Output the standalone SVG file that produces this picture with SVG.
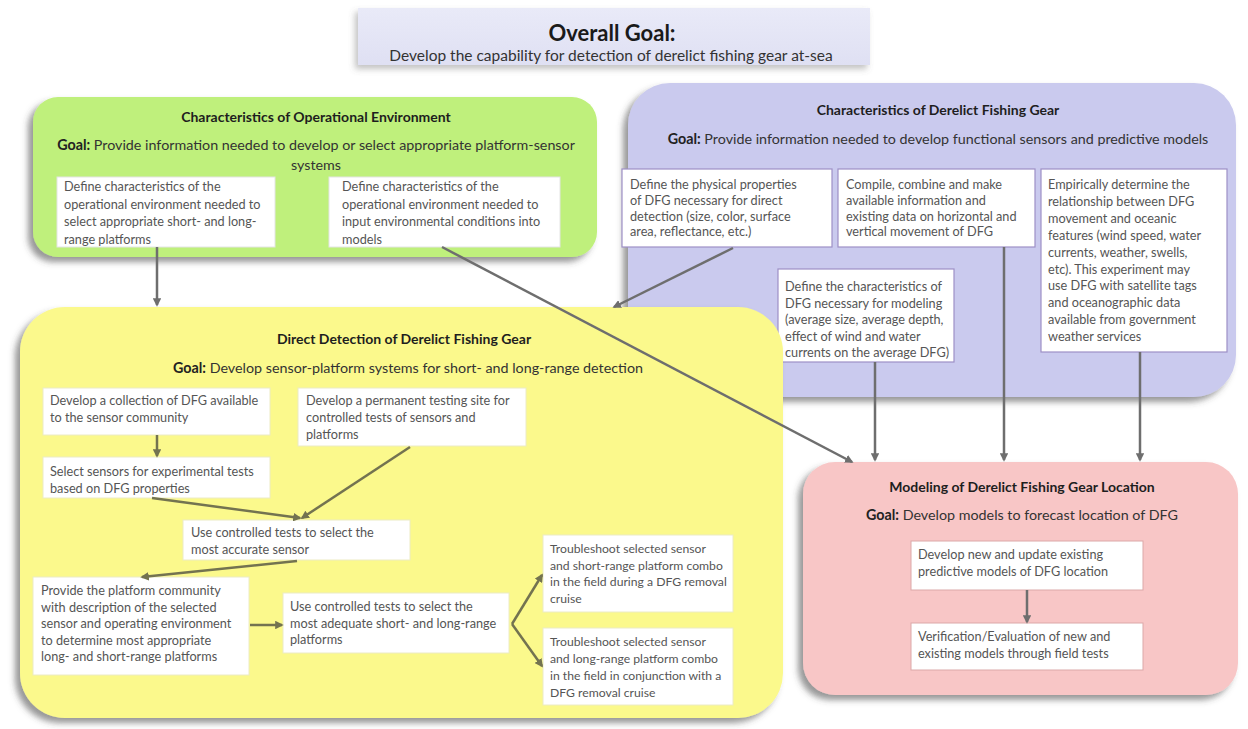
<svg xmlns="http://www.w3.org/2000/svg" width="1248" height="729" viewBox="0 0 1248 729">
<style>
text{font-family:Lato,"Liberation Sans",sans-serif}
.t{font-size:14px;font-weight:bold;fill:#1e1e1e;text-anchor:middle}
.g{font-size:14.3px;fill:#333;text-anchor:middle}
.g tspan.b{font-weight:bold;fill:#222}
.i{font-size:12.7px;fill:#555}
.s{font-size:12.2px}
.ib{fill:#fff}
.con{fill:none;stroke:#6e6e6e;stroke-width:2.5}
.cy{fill:none;stroke:#737350;stroke-width:2.5}
</style>
<defs>
<filter id="sh" x="-10%" y="-10%" width="120%" height="125%">
<feDropShadow dx="-5" dy="5" stdDeviation="3" flood-color="#444" flood-opacity="0.55"/>
</filter>
<filter id="sh2" x="-5%" y="-20%" width="110%" height="150%">
<feDropShadow dx="-3" dy="4" stdDeviation="3" flood-color="#666" flood-opacity="0.4"/>
</filter>
<linearGradient id="tg" x1="0" y1="0" x2="0" y2="1">
<stop offset="0" stop-color="#e9eaf8"/>
<stop offset="1" stop-color="#dfe0f3"/>
</linearGradient>
<marker id="a" viewBox="0 0 10 10" refX="8" refY="5" markerWidth="3.4" markerHeight="3.4" orient="auto" markerUnits="strokeWidth">
<path d="M0,0 L10,5 L0,10 z" fill="#6e6e6e"/>
</marker>
<marker id="ay" viewBox="0 0 10 10" refX="8" refY="5" markerWidth="3.4" markerHeight="3.4" orient="auto" markerUnits="strokeWidth">
<path d="M0,0 L10,5 L0,10 z" fill="#737350"/>
</marker>
</defs>
<rect width="1248" height="729" fill="#fff"/>

<g id="overall">
<rect x="358" y="8" width="512" height="57" fill="url(#tg)" filter="url(#sh2)"/>
<text x="612" y="41" style="font-size:22px;font-weight:bold;fill:#1a1a1a;text-anchor:middle">Overall Goal:</text>
<text x="611" y="61" style="font-size:15.5px;fill:#333;text-anchor:middle">Develop the capability for detection of derelict fishing gear at-sea</text>
</g>

<g id="purple">
<rect x="628" y="83" width="608" height="314" rx="42" fill="#cacaee" filter="url(#sh)"/>
<text class="t" x="938" y="115">Characteristics of Derelict Fishing Gear</text>
<text class="g" x="938" y="144"><tspan class="b">Goal:</tspan> Provide information needed to develop functional sensors and predictive models</text>
</g>
<g id="p-physical">
<rect class="ib" x="622" y="169" width="210" height="78" stroke="#9d8fc6" stroke-width="1.2"/>
<text class="i"><tspan x="630" y="189">Define the physical properties</tspan><tspan x="630" y="205">of DFG necessary for direct</tspan><tspan x="630" y="220.5">detection (size, color, surface</tspan><tspan x="630" y="236">area, reflectance, etc.)</tspan></text>
</g>
<g id="p-compile">
<rect class="ib" x="838" y="169" width="197" height="78" stroke="#9d8fc6" stroke-width="1.2"/>
<text class="i"><tspan x="846" y="189">Compile, combine and make</tspan><tspan x="846" y="205">available information and</tspan><tspan x="846" y="220.5">existing data on horizontal and</tspan><tspan x="846" y="236">vertical movement of DFG</tspan></text>
</g>
<g id="p-empirical">
<rect class="ib" x="1041" y="169" width="186" height="183" stroke="#9d8fc6" stroke-width="1.2"/>
<text class="i"><tspan x="1048" y="189">Empirically determine the</tspan><tspan x="1048" y="205.9">relationship between DFG</tspan><tspan x="1048" y="222.8">movement and oceanic</tspan><tspan x="1048" y="239.7">features (wind speed, water</tspan><tspan x="1048" y="256.6">currents, weather, swells,</tspan><tspan x="1048" y="273.5">etc). This experiment may</tspan><tspan x="1048" y="290.4">use DFG with satellite tags</tspan><tspan x="1048" y="307.3">and oceanographic data</tspan><tspan x="1048" y="324.2">available from government</tspan><tspan x="1048" y="341">weather services</tspan></text>
</g>
<g id="p-modeling">
<rect class="ib" x="778" y="269" width="176" height="93" stroke="#9d8fc6" stroke-width="1.2"/>
<text class="i"><tspan x="785" y="291">Define the characteristics of</tspan><tspan x="785" y="307.5">DFG necessary for modeling</tspan><tspan x="785" y="324">(average size, average depth,</tspan><tspan x="785" y="340.5">effect of wind and water</tspan><tspan x="785" y="357">currents on the average DFG)</tspan></text>
</g>

<g id="yellow">
<rect x="20" y="307" width="763" height="411" rx="45" fill="#fbf98c" filter="url(#sh)"/>
<text class="t" x="404" y="344">Direct Detection of Derelict Fishing Gear</text>
<text class="g" x="408" y="373"><tspan class="b">Goal:</tspan> Develop sensor-platform systems for short- and long-range detection</text>
</g>
<g id="y-collection">
<rect class="ib" x="43" y="388" width="227" height="47" stroke="#ecebc4"/>
<text class="i"><tspan x="50" y="405">Develop a collection of DFG available</tspan><tspan x="50" y="422">to the sensor community</tspan></text>
</g>
<g id="y-site">
<rect class="ib" x="298" y="388" width="228" height="58" stroke="#ecebc4"/>
<text class="i"><tspan x="306" y="405">Develop a permanent testing site for</tspan><tspan x="306" y="422">controlled tests of sensors and</tspan><tspan x="306" y="439">platforms</tspan></text>
</g>
<g id="y-select">
<rect class="ib" x="43" y="457" width="227" height="41" stroke="#ecebc4"/>
<text class="i"><tspan x="50" y="476">Select sensors for experimental tests</tspan><tspan x="50" y="493">based on DFG properties</tspan></text>
</g>
<g id="y-accurate">
<rect class="ib" x="183" y="520" width="227" height="40" stroke="#ecebc4"/>
<text class="i"><tspan x="191" y="537">Use controlled tests to select the</tspan><tspan x="191" y="554">most accurate sensor</tspan></text>
</g>
<g id="y-provide">
<rect class="ib" x="33" y="577" width="216" height="98" stroke="#ecebc4"/>
<text class="i"><tspan x="41" y="595">Provide the platform community</tspan><tspan x="41" y="611.5">with description of the selected</tspan><tspan x="41" y="628">sensor and operating environment</tspan><tspan x="41" y="644.5">to determine most appropriate</tspan><tspan x="41" y="661">long- and short-range platforms</tspan></text>
</g>
<g id="y-adequate">
<rect class="ib" x="283" y="593" width="226" height="60" stroke="#ecebc4"/>
<text class="i"><tspan x="290" y="611">Use controlled tests to select the</tspan><tspan x="290" y="627.5">most adequate short- and long-range</tspan><tspan x="290" y="644">platforms</tspan></text>
</g>
<g id="y-short">
<rect class="ib" x="543" y="535" width="190" height="77" stroke="#ecebc4"/>
<text class="i s"><tspan x="550" y="553">Troubleshoot selected sensor</tspan><tspan x="550" y="569.5">and short-range platform combo</tspan><tspan x="550" y="586">in the field during a DFG removal</tspan><tspan x="550" y="602.5">cruise</tspan></text>
</g>
<g id="y-long">
<rect class="ib" x="543" y="628" width="190" height="77" stroke="#ecebc4"/>
<text class="i s"><tspan x="550" y="646">Troubleshoot selected sensor</tspan><tspan x="550" y="663">and long-range platform combo</tspan><tspan x="550" y="680">in the field in conjunction with a</tspan><tspan x="550" y="697">DFG removal cruise</tspan></text>
</g>

<g id="green">
<rect x="33" y="97" width="564" height="160" rx="25" fill="#bff07c" filter="url(#sh)"/>
<text class="t" x="316" y="122">Characteristics of Operational Environment</text>
<text class="g" x="316" y="150"><tspan class="b">Goal:</tspan> Provide information needed to develop or select appropriate platform-sensor</text>
<text class="g" x="316" y="170">systems</text>
</g>
<g id="g-platforms">
<rect class="ib" x="57" y="177" width="218" height="70" stroke="#e4e4e4"/>
<text class="i"><tspan x="64" y="191">Define characteristics of the</tspan><tspan x="64" y="208.5">operational environment needed to</tspan><tspan x="64" y="226">select appropriate short- and long-</tspan><tspan x="64" y="243.5">range platforms</tspan></text>
</g>
<g id="g-models">
<rect class="ib" x="329" y="177" width="231" height="70" stroke="#e4e4e4"/>
<text class="i"><tspan x="342" y="191">Define characteristics of the</tspan><tspan x="342" y="208.5">operational environment needed to</tspan><tspan x="342" y="226">input environmental conditions into</tspan><tspan x="342" y="243.5">models</tspan></text>
</g>

<g id="pink">
<rect x="803" y="462" width="435" height="233" rx="32" fill="#f8c6c6" filter="url(#sh)"/>
<text class="t" x="1022" y="492">Modeling of Derelict Fishing Gear Location</text>
<text class="g" x="1022" y="520"><tspan class="b">Goal:</tspan> Develop models to forecast location of DFG</text>
</g>
<g id="k-develop">
<rect class="ib" x="911" y="541" width="232" height="49" stroke="#dba8a8"/>
<text class="i"><tspan x="918" y="559">Develop new and update existing</tspan><tspan x="918" y="576">predictive models of DFG location</tspan></text>
</g>
<g id="k-verify">
<rect class="ib" x="911" y="623" width="232" height="47" stroke="#dba8a8"/>
<text class="i"><tspan x="918" y="641">Verification/Evaluation of new and</tspan><tspan x="918" y="658">existing models through field tests</tspan></text>
</g>

<g id="connectors">
<path class="con" d="M157,247 L157,305" marker-end="url(#a)"/>
<path class="con" d="M442,247 L852,462" marker-end="url(#a)"/>
<path class="con" d="M733,248 L614,307" marker-end="url(#a)"/>
<path class="con" d="M875,362 L875,460" marker-end="url(#a)"/>
<path class="con" d="M1004,247 L1004,460" marker-end="url(#a)"/>
<path class="con" d="M1140,352 L1140,460" marker-end="url(#a)"/>
<path class="con" d="M1027,590 L1027,622" marker-end="url(#a)"/>
<path class="cy" d="M157,435 L157,456" marker-end="url(#ay)"/>
<path class="cy" d="M152,498 L300,518" marker-end="url(#ay)"/>
<path class="cy" d="M410,447 L302,518" marker-end="url(#ay)"/>
<path class="cy" d="M297,561 L142,577" marker-end="url(#ay)"/>
<path class="cy" d="M250,625 L282,625" marker-end="url(#ay)"/>
<path class="cy" d="M512,624 L542,575" marker-end="url(#ay)"/>
<path class="cy" d="M512,624 L542,666" marker-end="url(#ay)"/>
</g>
</svg>
